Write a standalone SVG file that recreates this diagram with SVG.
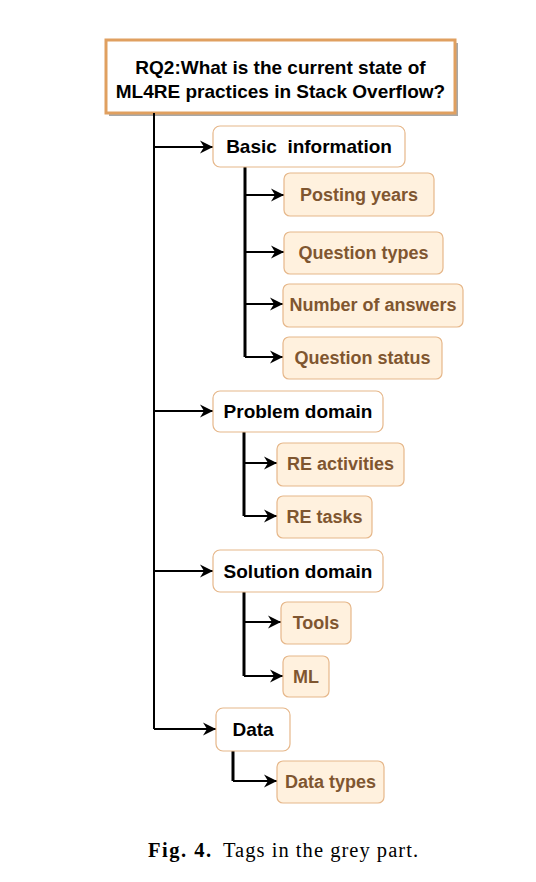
<svg xmlns="http://www.w3.org/2000/svg" width="536" height="882" viewBox="0 0 536 882">
<defs>
<marker id="ah" markerWidth="14" markerHeight="14" refX="13" refY="7" orient="auto" markerUnits="userSpaceOnUse">
<path d="M0,0.5 L13,7 L0,13.5 L4,7 Z" fill="#000"/>
</marker>
<style>
.main rect{fill:#fff;stroke:#E6B78A;stroke-width:1.2}
.sub rect{fill:#FFF1DE;stroke:#E6B78A;stroke-width:1.2}
.main text{font-family:"Liberation Sans",Arial,sans-serif;font-weight:bold;font-size:19px;fill:#000;text-anchor:middle;white-space:pre}
.sub text{font-family:"Liberation Sans",Arial,sans-serif;font-weight:bold;font-size:18px;fill:#7F5630;text-anchor:middle}
.c1{fill:none;stroke:#000;stroke-width:2}
.c2{fill:none;stroke:#000;stroke-width:3}
.a{fill:none;stroke:#000;stroke-width:2;marker-end:url(#ah)}
</style>
</defs>
<rect width="536" height="882" fill="#fff"/>
<g id="title">
<rect x="109" y="43" width="349" height="73" fill="#a8a8a8"/>
<rect x="106" y="40" width="349" height="73" fill="#fff" stroke="#E0A060" stroke-width="3"/>
<text x="280.5" y="74" font-family="Liberation Sans,Arial,sans-serif" font-weight="bold" font-size="19" text-anchor="middle">RQ2:What is the current state of</text>
<text x="280.5" y="98" font-family="Liberation Sans,Arial,sans-serif" font-weight="bold" font-size="19" text-anchor="middle">ML4RE practices in Stack Overflow?</text>
</g>
<g id="connectors">
<path class="c1" d="M154,113 V729"/>
<path class="a" d="M154,147 H213"/>
<path class="a" d="M154,411 H213"/>
<path class="a" d="M154,571 H213"/>
<path class="a" d="M154,729 H216"/>
<path class="c2" d="M245,167 V357"/>
<path class="a" d="M245,195 H284"/>
<path class="a" d="M245,252 H284"/>
<path class="a" d="M245,304 H283"/>
<path class="a" d="M245,357 H283"/>
<path class="c2" d="M244,432 V516"/>
<path class="a" d="M244,463 H277"/>
<path class="a" d="M244,516 H277"/>
<path class="c2" d="M244,592 V676"/>
<path class="a" d="M244,622 H281"/>
<path class="a" d="M244,676 H283"/>
<path class="c2" d="M233,751 V781"/>
<path class="a" d="M233,781 H277"/>
</g>
<g id="basic" class="main"><rect x="213" y="126" width="192" height="41" rx="7"/><text x="309" y="153" xml:space="preserve">Basic  information</text></g>
<g id="posting" class="sub"><rect x="284" y="173" width="150" height="43" rx="6"/><text x="359" y="201">Posting years</text></g>
<g id="qtypes" class="sub"><rect x="284" y="232" width="159" height="42" rx="6"/><text x="363.5" y="259">Question types</text></g>
<g id="nanswers" class="sub"><rect x="283" y="284" width="180" height="43" rx="6"/><text x="373" y="311">Number of answers</text></g>
<g id="qstatus" class="sub"><rect x="283" y="337" width="159" height="42" rx="6"/><text x="362.5" y="364">Question status</text></g>
<g id="problem" class="main"><rect x="213" y="391" width="170" height="41" rx="7"/><text x="298" y="418">Problem domain</text></g>
<g id="reactivities" class="sub"><rect x="277" y="443" width="127" height="43" rx="6"/><text x="340.5" y="470">RE activities</text></g>
<g id="retasks" class="sub"><rect x="277" y="496" width="95" height="42" rx="6"/><text x="324.5" y="523">RE tasks</text></g>
<g id="solution" class="main"><rect x="213" y="550" width="170" height="42" rx="7"/><text x="298" y="578">Solution domain</text></g>
<g id="tools" class="sub"><rect x="281" y="602" width="70" height="42" rx="6"/><text x="316" y="629">Tools</text></g>
<g id="ml" class="sub"><rect x="283" y="656" width="46" height="41" rx="6"/><text x="306" y="683">ML</text></g>
<g id="data" class="main"><rect x="216" y="708" width="74" height="43" rx="7"/><text x="253" y="736">Data</text></g>
<g id="datatypes" class="sub"><rect x="277" y="761" width="107" height="42" rx="6"/><text x="330.5" y="788">Data types</text></g>
<g id="caption" font-family="Liberation Serif,Times New Roman,serif" font-size="20.5">
<text x="148" y="857" font-weight="bold" textLength="63" lengthAdjust="spacing">Fig. 4.</text>
<text x="223" y="857" textLength="195" lengthAdjust="spacing">Tags in the grey part.</text>
</g>
</svg>
